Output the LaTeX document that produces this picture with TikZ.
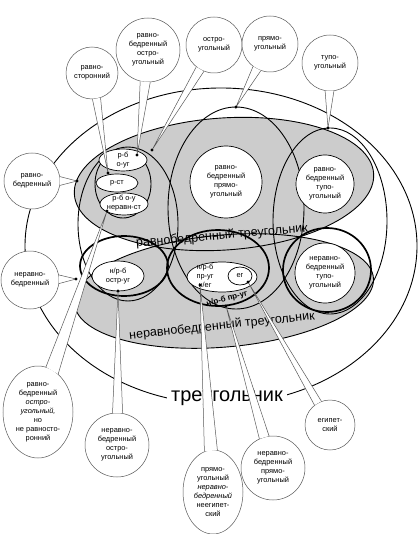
\documentclass[tikz,border=0pt]{standalone}
\usepackage{fontspec}
\setmainfont{Liberation Sans}
\usetikzlibrary{shapes.geometric,calc}
\newcommand\labfont{\fontsize{7.4}{9}\selectfont}
\newcommand\bandfont{\fontsize{12.5}{14}\selectfont}
\newcommand\bigfont{\fontsize{20}{22}\selectfont}
\newcommand\tailto[2]{%
  \path[fill=white] let \p1=($(#2)-(#1.center)$), \n1={atan2(\y1,\x1)}, \n2={int(\n1+9)}, \n3={int(\n1-9)} in (#1.\n2) -- (#2) -- (#1.\n3) -- cycle;
  \draw[bubline] let \p1=($(#2)-(#1.center)$), \n1={atan2(\y1,\x1)}, \n2={int(\n1+9)}, \n3={int(\n1-9)} in (#1.\n2) -- (#2) -- (#1.\n3);}
\begin{document}
\begin{tikzpicture}[x=1pt,y=-1pt,
  gfill/.style={fill=black!20},
  thinE/.style={line width=0.9pt},
  thickE/.style={line width=1.7pt},
  whiteE/.style={fill=white,draw,line width=0.7pt},
  lab/.style={font=\labfont,align=center,inner sep=0pt},
  bubline/.style={draw=black!65,line width=0.5pt},
  bub/.style={ellipse,bubline,fill=white,inner sep=0pt,align=center,font=\labfont},
  lcirc/.style={ellipse,draw=black,line width=0.7pt,fill=white,inner sep=0pt,align=center,font=\labfont},
  dotn/.style={circle,fill=black,inner sep=0pt,minimum size=3.2pt}]
\useasboundingbox (0,0) rectangle (418,534);
% gray regions
\fill[gfill,rotate around={4:(224,184)}] (224,184) ellipse [x radius=150,y radius=66];
\fill[gfill,rotate around={5:(224,291)}] (224,291) ellipse [x radius=150,y radius=56];
\draw[thinE,rotate around={4:(224,184)}] (224,184) ellipse [x radius=150,y radius=66];
\draw[thinE,rotate around={5:(224,291)}] (224,291) ellipse [x radius=150,y radius=56];
% outer ellipse
\draw[thinE] (221,246) ellipse [x radius=196,y radius=158];
% vertical ellipses (acute, right, obtuse)
\draw[thinE] (128,224) ellipse [x radius=50,y radius=77];
\draw[thinE] (236,208) ellipse [x radius=68,y radius=101];
\draw[thinE] (330,221) ellipse [x radius=57,y radius=93];
% thick regions in lower band
\draw[thickE] (124,266) ellipse [x radius=44,y radius=30];
\draw[thickE] (218,268) ellipse [x radius=51,y radius=38];
\draw[thickE] (327,270) ellipse [x radius=44,y radius=42];
% top-left cluster
\draw[thinE] (123,184) ellipse [x radius=28,y radius=34];
\draw[whiteE] (123,160) ellipse [x radius=24,y radius=11];
\draw[whiteE] (117,183) ellipse [x radius=21,y radius=9];
\draw[whiteE] (124,204) ellipse [x radius=24,y radius=11];
\node[lab] (lRB) at (123,160) {р-б\\о-уг};
\node[lab] (lRS) at (117,183) {р-ст};
\node[lab] (lRBN) at (124,203) {р-б о-у\\неравн-ст};
% label circles
\node[lcirc,minimum size=72] (cRBP) at (226,182) {равно-\\бедренный\\прямо-\\угольный};
\node[lcirc,minimum size=58] (cRBT) at (325,184) {равно-\\бедренный\\тупо-\\угольный};
\node[lcirc,minimum size=60] (cNRT) at (325,273) {неравно-\\бедренный\\тупо-\\угольный};
\node[lcirc,minimum width=52,minimum height=30] (cNRA) at (118,276) {н/р-б\\остр-уг};
\node[lcirc,minimum width=70,minimum height=30] (cNRP) at (222,277) {};
\node[lab] (lNRP) at (205,276) {н/р-б\\пр-уг\\н/ег};
\node[lcirc,minimum width=24,minimum height=18] (cEG) at (240,276) {ег};
% band texts
\node[lab,font=\bandfont,rotate=5] (tRB) at (222,236) {равнобедренный треугольник};
\node[lab,font=\bandfont,rotate=6] (tNRB) at (222,326) {неравнобедренный треугольник};
\node[lab,font=\bigfont,fill=white,inner xsep=4pt,inner ysep=2pt] (tT) at (227,398) {треугольник};
% dot positions
\coordinate (dRS) at (108,173);
\coordinate (dRBA) at (137,155);
\coordinate (dA) at (152,150);
\coordinate (dP) at (236,107);
\coordinate (dT) at (328,128);
\coordinate (dRB) at (77,181);
\coordinate (dNRB) at (76,279);
\coordinate (dRBAN) at (107,211);
\coordinate (dNRA) at (118,291);
\coordinate (dNEG) at (200,285);
\coordinate (dNRP) at (226,306);
\coordinate (dEG) at (248,282);
% bubbles
\node[bub,minimum size=52] (bRS) at (92,73) {равно-\\сторонний};
\node[bub,minimum size=64] (bRBA) at (148,50) {равно-\\бедренный\\остро-\\угольный};
\node[bub,minimum size=56] (bA) at (214,45) {остро-\\угольный};
\node[bub,minimum size=56] (bP) at (270,44) {прямо-\\угольный};
\node[bub,minimum size=56] (bT) at (330,63) {тупо-\\угольный};
\node[bub,minimum size=56] (bRB) at (32,181) {равно-\\бедренный};
\node[bub,minimum size=58] (bNRB) at (30,280) {неравно-\\бедренный};
\node[bub,minimum width=70,minimum height=92] (bRBAN) at (38,412) {равно-\\бедренный\\\textit{остро-}\\\textit{угольный,}\\но\\не равносто-\\ронний};
\node[bub,minimum size=64] (bNRA) at (117,445) {неравно-\\бедренный\\остро-\\угольный};
\node[bub,minimum width=60,minimum height=84] (bNEG) at (213,492) {прямо-\\угольный\\\textit{неравно-}\\\textit{бедренный}\\неегипет-\\ский};
\node[bub,minimum size=64] (bNRP) at (273,468) {неравно-\\бедренный\\прямо-\\угольный};
\node[bub,minimum size=50] (bEG) at (330,425) {египет-\\ский};
% tails
\tailto{bRS}{dRS}
\tailto{bRBA}{dRBA}
\tailto{bA}{dA}
\tailto{bP}{dP}
\tailto{bT}{dT}
\tailto{bRB}{dRB}
\tailto{bNRB}{dNRB}
\tailto{bRBAN}{dRBAN}
\tailto{bNRA}{dNRA}
\tailto{bNEG}{dNEG}
\tailto{bNRP}{dNRP}
\tailto{bEG}{dEG}
% bold region label, above the tails
\node[lab,font=\fontsize{8}{9}\selectfont\bfseries,rotate=14] (lNRPb) at (227,299) {н/р-б пр-уг};
% dots
\foreach \d in {dRS,dRBA,dA,dP,dT,dRB,dNRB,dRBAN,dNRA,dNEG,dNRP,dEG}
  \node[dotn] (\d n) at (\d) {};
\end{tikzpicture}
\end{document}
